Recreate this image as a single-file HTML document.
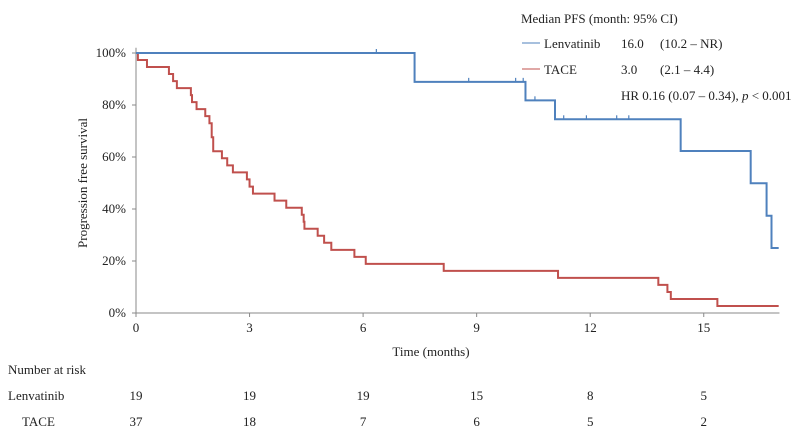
<!DOCTYPE html>
<html><head><meta charset="utf-8"><style>
body{margin:0;background:#fff;}
svg{display:block;font-family:"Liberation Serif",serif;font-size:13px;fill:#222;}
</style></head><body>
<svg id="chart" width="794" height="437">
<g id="axes"></g><g id="curves"></g><g id="legend"></g><g id="risk"></g>
</svg>
<script>
const xTicks=[0,3,6,9,12,15];
const yTicks=[0,20,40,60,80,100];
const lenvTimes=[0,7.36,10.29,11.07,14.39,16.24,16.66,16.79,16.98];
const lenvSurv=[100,88.9,81.8,74.5,62.3,49.9,37.4,25.0,25.0];
const lenvCensor=[6.35,8.79,10.03,10.23,10.54,11.3,11.9,12.7,13.02];
const taceTimes=[0,0.05,0.29,0.87,0.98,1.08,1.45,1.48,1.6,1.83,1.94,2.0,2.04,2.27,2.41,2.56,2.93,3.0,3.09,3.66,3.97,4.38,4.43,4.45,4.8,4.97,5.16,5.77,6.07,8.13,11.15,13.8,14.04,14.13,15.36,16.98];
const taceSurv=[100,97.3,94.6,91.9,89.2,86.5,83.8,81.1,78.4,75.7,73.0,67.6,62.2,59.5,56.8,54.1,51.4,48.6,45.9,43.2,40.5,37.8,35.1,32.4,29.7,27.0,24.3,21.6,18.9,16.2,13.5,10.8,8.1,5.4,2.7,2.7];
const riskLenv=[19,19,19,15,8,5];
const riskTace=[37,18,7,6,5,2];
const NS="http://www.w3.org/2000/svg";
const X0=136,PX=37.85,Y0=313,PY=2.6,XMAX=17;
const sx=t=>X0+t*PX, sy=v=>Y0-v*PY;
function mk(tag,attrs,parent,txt){const e=document.createElementNS(NS,tag);for(const k in attrs)e.setAttribute(k,attrs[k]);if(txt!=null)e.textContent=txt;parent.appendChild(e);return e;}
const axes=document.getElementById('axes');
let e=mk('line',{x1:X0,y1:sy(0),x2:sx(XMAX),y2:sy(0),stroke:'#888','stroke-width':1},axes);

e=mk('line',{x1:X0,y1:sy(0),x2:X0,y2:sy(102),stroke:'#888','stroke-width':1},axes);

xTicks.forEach(t=>{mk('line',{x1:sx(t),y1:sy(0),x2:sx(t),y2:sy(0)+4,stroke:'#888'},axes);
 const l=mk('text',{x:sx(t),y:332,'text-anchor':'middle'},axes,t);
 });
yTicks.forEach(v=>{mk('line',{x1:X0-4,y1:sy(v),x2:X0,y2:sy(v),stroke:'#888'},axes);
 const l=mk('text',{x:126,y:sy(v)+4,'text-anchor':'end'},axes,v+'%');
 });
e=mk('text',{x:431,y:356,'text-anchor':'middle'},axes,'Time (months)');

e=mk('text',{x:0,y:0,'text-anchor':'middle',transform:'translate(87,183) rotate(-90)'},axes,'Progression free survival');

const curves=document.getElementById('curves');
function stepPath(ts,vs){let d='M'+sx(ts[0])+','+sy(vs[0]);for(let i=1;i<ts.length;i++){d+=' H'+sx(ts[i])+' V'+sy(vs[i]);}return d;}
function survAt(ts,vs,t){let v=vs[0];for(let i=0;i<ts.length;i++){if(ts[i]<=t)v=vs[i];}return v;}
e=mk('path',{d:stepPath(taceTimes,taceSurv),fill:'none',stroke:'#c0504d','stroke-width':2},curves);

e=mk('path',{d:stepPath(lenvTimes,lenvSurv),fill:'none',stroke:'#4f81bd','stroke-width':2},curves);

lenvCensor.forEach(t=>{const y=sy(survAt(lenvTimes,lenvSurv,t));
 const c=mk('line',{x1:sx(t),y1:y-4,x2:sx(t),y2:y,stroke:'#4f81bd','stroke-width':1.2},curves);
 });
const lg=document.getElementById('legend');
e=mk('text',{x:521,y:23},lg,'Median PFS (month: 95% CI)');
mk('line',{x1:522,y1:43,x2:540,y2:43,stroke:'#4f81bd'},lg);
e=mk('text',{x:544,y:48},lg,'Lenvatinib');
mk('text',{x:621,y:48},lg,'16.0');mk('text',{x:660,y:48},lg,'(10.2 – NR)');
mk('line',{x1:522,y1:69,x2:540,y2:69,stroke:'#c0504d'},lg);
e=mk('text',{x:544,y:74},lg,'TACE');
mk('text',{x:621,y:74},lg,'3.0');mk('text',{x:660,y:74},lg,'(2.1 – 4.4)');
e=mk('text',{x:621,y:100},lg,'');
e.innerHTML='HR 0.16 (0.07 – 0.34), <tspan font-style="italic">p</tspan> &lt; 0.001';
const rk=document.getElementById('risk');
e=mk('text',{x:8,y:374},rk,'Number at risk');
e=mk('text',{x:8,y:400},rk,'Lenvatinib');
e=mk('text',{x:22,y:426},rk,'TACE');
xTicks.forEach((t,i)=>{
 const a=mk('text',{x:sx(t),y:400,'text-anchor':'middle'},rk,riskLenv[i]);
 const b=mk('text',{x:sx(t),y:426,'text-anchor':'middle'},rk,riskTace[i]);});
</script>
</body></html>
